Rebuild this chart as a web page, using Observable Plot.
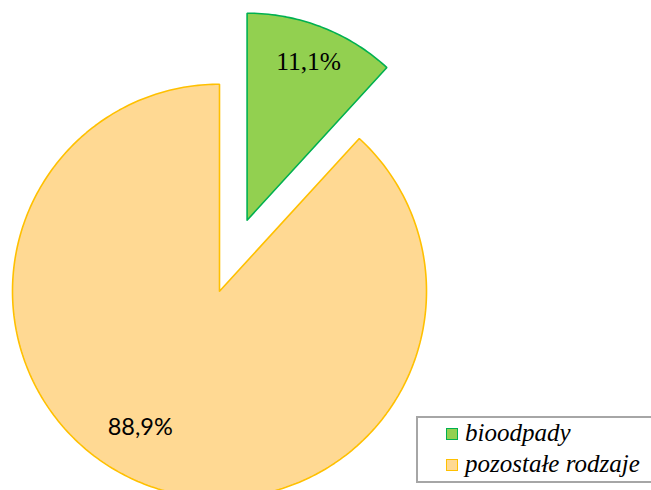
<!DOCTYPE html>
<html><head><meta charset="utf-8">
<script src="https://cdn.jsdelivr.net/npm/d3@7"></script>
<script src="https://cdn.jsdelivr.net/npm/@observablehq/plot@0.6"></script>
<style>
body{margin:0;background:#fff;}
#wrap{position:relative;width:651px;height:490px;overflow:hidden;background:#fff;}
#legend{position:absolute;left:416px;top:416px;width:250px;height:67px;border:2px solid #a6a6a6;box-sizing:border-box;background:#fff;font-family:"Liberation Serif",serif;font-style:italic;font-size:25px;color:#000;}
.item{position:absolute;left:28px;height:24px;white-space:nowrap;}
.sw{position:absolute;left:0;top:0;width:10px;height:10px;border:1.5px solid;}
.lt{position:absolute;left:19px;top:-8px;line-height:1;}
</style>
</head><body>
<div id="wrap"><div id="chart"></div><div id="legend"></div></div>
<script>
const categories = ["bioodpady", "pozostałe rodzaje"];
// slice sizes as drawn in the picture (the printed labels read 11,1% / 88,9%)
const values = [11.8, 88.2];
const labels = ["11,1%", "88,9%"];

// styles
const fills = ["#92D050", "#FFD993"];
const strokes = ["#00B050", "#FFC000"];
const explode = [0.368, 0];
const labelRadius = [0.82, 0.76];
const labelAngleShift = [0, 9]; // degrees
const labelFonts = ["'Liberation Serif', serif", "Lato, sans-serif"];
const labelSizes = [25.5, 23.5];

const W = 651, H = 490, cx = 219, cy = 290.7, R = 207;

const arcs = d3.pie().sort(null).startAngle(0).endAngle(2 * Math.PI)(values);

const pts = [];
const lbl = [];
arcs.forEach((a, i) => {
  const mid = (a.startAngle + a.endAngle) / 2;
  const ox = Math.sin(mid) * explode[i], oy = Math.cos(mid) * explode[i];
  pts.push({i, x: ox, y: oy});
  const n = Math.max(8, Math.ceil((a.endAngle - a.startAngle) / (Math.PI / 180)));
  for (let k = 0; k <= n; k++) {
    const t = a.startAngle + (a.endAngle - a.startAngle) * k / n;
    pts.push({i, x: ox + Math.sin(t), y: oy + Math.cos(t)});
  }
  pts.push({i, x: ox, y: oy});
  const la = mid + labelAngleShift[i] * Math.PI / 180;
  lbl.push({i, text: labels[i], x: ox + Math.sin(la) * labelRadius[i], y: oy + Math.cos(la) * labelRadius[i]});
});

const marks = [
  Plot.line(pts, {x: "x", y: "y", z: "i", fill: d => fills[d.i], stroke: d => strokes[d.i], strokeWidth: 1.6, curve: "linear", strokeLinejoin: "miter"})
];
lbl.forEach(d => {
  marks.push(Plot.text([d], {x: "x", y: "y", text: "text", fontSize: labelSizes[d.i], fontFamily: labelFonts[d.i], fill: "#000"}));
});

const chart = Plot.plot({
  width: W, height: H,
  margin: 0,
  x: {domain: [-cx / R, (W - cx) / R], range: [0, W], axis: null},
  y: {domain: [-(H - cy) / R, cy / R], range: [H, 0], axis: null},
  color: {type: "identity"},
  style: {background: "transparent"},
  marks
});
document.getElementById("chart").appendChild(chart);

const legend = document.getElementById("legend");
categories.forEach((c, i) => {
  const it = document.createElement("div");
  it.className = "item";
  it.style.top = (10 + i * 31) + "px";
  const sw = document.createElement("div");
  sw.className = "sw";
  sw.style.background = fills[i];
  sw.style.borderColor = strokes[i];
  const t = document.createElement("div");
  t.className = "lt";
  t.textContent = c;
  it.appendChild(sw); it.appendChild(t);
  legend.appendChild(it);
});
</script>
</body></html>
